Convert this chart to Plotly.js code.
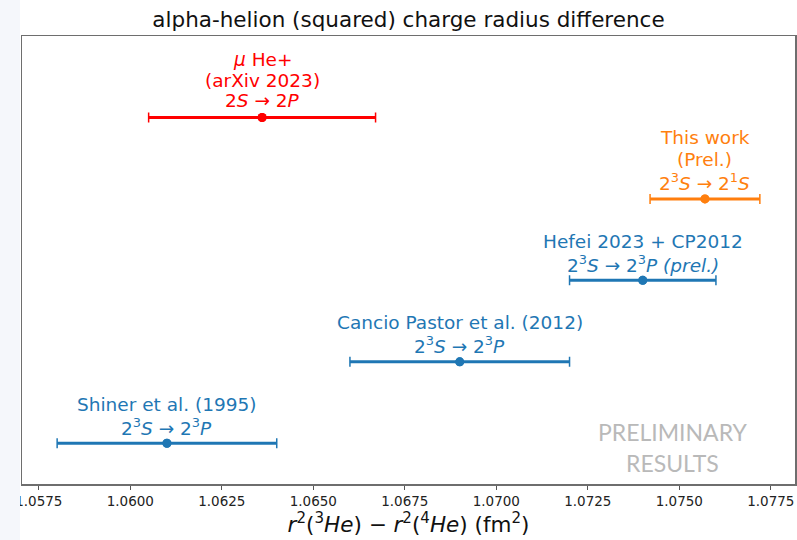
<!DOCTYPE html>
<html>
<head>
<meta charset="utf-8">
<script src="https://cdn.plot.ly/plotly-3.0.1.min.js"></script>
<style>
  html, body { margin: 0; padding: 0; background: #ffffff; }
  #chart { width: 797px; height: 540px; }
</style>
</head>
<body>
<div id="chart"></div>
<script>
// Measurements of r^2(3He) - r^2(4He), in fm^2, with 1-sigma uncertainties.
// Each label is a list of lines, top to bottom.
const labels = [
  ["Shiner et al. (1995)", "2<sup>3</sup><i>S</i> → 2<sup>3</sup><i>P</i>"],
  ["Cancio Pastor et al. (2012)", "2<sup>3</sup><i>S</i> → 2<sup>3</sup><i>P</i>"],
  ["Hefei 2023 + CP2012", "2<sup>3</sup><i>S</i> → 2<sup>3</sup><i>P</i> <i>(prel.)</i>"],
  ["This work", "(Prel.)", "2<sup>3</sup><i>S</i> → 2<sup>1</sup><i>S</i>"],
  ["<i>μ</i> He+", "(arXiv 2023)", "2<i>S</i> → 2<i>P</i>"]
];
const values = [1.0610, 1.0690, 1.0740, 1.0757, 1.0636];
const errors = [0.0030, 0.0030, 0.0020, 0.0015, 0.0031];
const rows   = [0, 1, 2, 3, 4];
const colors = ["#1f77b4", "#1f77b4", "#1f77b4", "#ff7f0e", "#ff0000"];

const watermark = ["PRELIMINARY", "RESULTS"];

const traces = [];
const annotations = [];
for (let i = 0; i < values.length; i++) {
  // thick bar without caps
  traces.push({
    type: "scatter", mode: "markers",
    x: [values[i]], y: [rows[i]],
    marker: { color: colors[i], size: 9 },
    error_x: { type: "data", array: [errors[i]], visible: true,
               color: colors[i], thickness: 3, width: 0 },
    hoverinfo: "x", showlegend: false
  });
  // thin end caps
  traces.push({
    type: "scatter", mode: "markers",
    x: [values[i]], y: [rows[i]],
    marker: { color: colors[i], size: 9 },
    error_x: { type: "data", array: [errors[i]], visible: true,
               color: colors[i], thickness: 1.5, width: 5 },
    hoverinfo: "skip", showlegend: false
  });
  // stacked text lines above the point
  const lines = labels[i];
  const hasSup = lines.some(s => s.indexOf("<sup>") >= 0);
  const step = hasSup ? 22.5 : 20.5;
  for (let k = 0; k < lines.length; k++) {
    const fromBottom = lines.length - 1 - k;
    annotations.push({
      x: values[i], y: rows[i], xref: "x", yref: "y",
      text: lines[k], showarrow: false,
      xanchor: "center", yanchor: "middle",
      yshift: 16.5 + fromBottom * step,
      font: { family: "DejaVu Sans", size: 18.5, color: colors[i] }
    });
  }
}

const plotL = 22, plotR = 2, plotT = 36, plotB = 56;
const plotW = 797 - plotL - plotR, plotH = 540 - plotT - plotB;

watermark.forEach((t, k) => {
  annotations.push({
    x: (672 - plotL) / plotW, y: (540 - plotB - (432 + 31 * k)) / plotH,
    xref: "paper", yref: "paper", xanchor: "center", yanchor: "middle",
    text: t, showarrow: false,
    font: { family: "Lato", size: 23, color: "#b9b9b9" }
  });
});

const xMin = 1.058, xMax = 1.0772, pad = 0.05 * (xMax - xMin);

const layout = {
  width: 797, height: 540,
  margin: { l: plotL, r: plotR, t: plotT, b: plotB },
  paper_bgcolor: "#ffffff", plot_bgcolor: "#ffffff",
  title: {
    text: "alpha-helion (squared) charge radius difference",
    font: { family: "DejaVu Sans", size: 21.5, color: "#111111" },
    x: 0.5, xref: "paper", y: 1 - 19 / 540, yref: "container", yanchor: "middle"
  },
  xaxis: {
    range: [xMin - pad, xMax + pad],
    tick0: 1.0575, dtick: 0.0025, tickformat: ".4f",
    ticks: "outside", ticklen: 4, tickwidth: 1, tickcolor: "#555555",
    tickfont: { family: "DejaVu Sans", size: 13.5, color: "#222222" },
    showgrid: false, zeroline: false,
    showline: true, mirror: true, linecolor: "#6e6e6e", linewidth: 1.5,
    title: {
      text: "<i>r</i><sup>2</sup>(<sup>3</sup><i>He</i>) − <i>r</i><sup>2</sup>(<sup>4</sup><i>He</i>) (fm<sup>2</sup>)",
      font: { family: "DejaVu Sans", size: 21.5, color: "#111111" },
      standoff: 4
    }
  },
  yaxis: {
    range: [-0.5, 5],
    showticklabels: false, ticks: "", showgrid: false, zeroline: false,
    showline: true, mirror: true, linecolor: "#6e6e6e", linewidth: 1.5
  },
  annotations: annotations,
  shapes: [{
    // pale strip along the left edge of the page
    type: "rect", xref: "paper", yref: "paper", layer: "above",
    x0: -plotL / plotW, x1: -2 / plotW, y0: -plotB / plotH, y1: (540 - plotB) / plotH,
    fillcolor: "#f5f7fb", line: { width: 0 }
  }]
};

Plotly.newPlot("chart", traces, layout, { displayModeBar: false, staticPlot: true });
</script>
</body>
</html>
